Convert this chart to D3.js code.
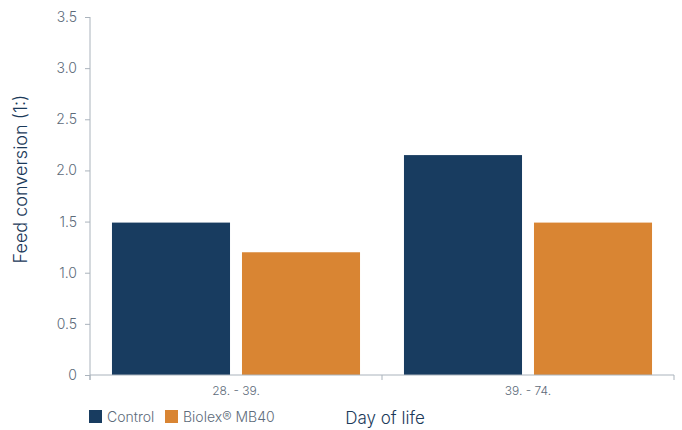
<!DOCTYPE html>
<html><head><meta charset="utf-8">
<script src="https://cdn.jsdelivr.net/npm/d3@7"></script>
<style>body{margin:0;background:#fff}svg{display:block}</style>
</head><body>
<script>
const categories = ["28. - 39.", "39. - 74."];
const seriesNames = ["Control", "Biolex® MB40"];
const controlValues = [1.49, 2.15];
const biolexValues = [1.20, 1.49];
const yTicks = [0, 0.5, 1.0, 1.5, 2.0, 2.5, 3.0, 3.5];
const colors = ["#183c60", "#d98533"];

const W = 682, H = 430;
const m = {left: 90, right: 8, top: 17, bottom: 55};
const svg = d3.select("body").append("svg").attr("width", W).attr("height", H);
const font = "Inter, 'Noto Sans', sans-serif";

const x = d3.scaleBand().domain(categories).range([m.left, W - m.right]).paddingInner(0).paddingOuter(0);
const x1 = d3.scaleBand().domain(seriesNames).range([0, x.bandwidth()]).paddingInner(0.092).paddingOuter(0.169);
const y = d3.scaleLinear().domain([0, 3.5]).range([H - m.bottom, m.top]);

const data = categories.map((c, i) => ({cat: c, vals: [controlValues[i], biolexValues[i]]}));

const g = svg.append("g");
g.selectAll("g.grp").data(data).join("g").attr("class", "grp")
  .attr("transform", d => `translate(${x(d.cat)},0)`)
  .selectAll("rect").data(d => d.vals.map((v, j) => ({v, s: seriesNames[j], j})))
  .join("rect")
  .attr("x", d => x1(d.s)).attr("width", x1.bandwidth())
  .attr("y", d => y(d.v)).attr("height", d => y(0) - y(d.v))
  .attr("fill", d => colors[d.j]);

// y axis
const yAxis = d3.axisLeft(y).tickValues(yTicks).tickSize(5).tickPadding(8)
  .tickFormat(d => d === 0 ? "0" : d3.format(".1f")(d));
const ya = svg.append("g").attr("transform", `translate(${m.left},0)`).call(yAxis);
ya.select(".domain").attr("stroke", "#aab3bc").attr("d", `M0,${m.top}V${y(0)+5}`);
ya.selectAll(".tick line").attr("stroke", "#aab3bc");
ya.selectAll(".tick text").attr("fill", "#5d6b7a").style("font-family", font)
  .style("font-size", "14px").style("font-weight", 300);

// x axis
const xa = svg.append("g").attr("transform", `translate(0,${y(0)})`);
xa.append("line").attr("x1", m.left).attr("x2", W - m.right).attr("stroke", "#aab3bc");
const xTickPos = [m.left, ...categories.slice(1).map(c => x(c)), W - m.right];
xa.selectAll("line.t").data(xTickPos).join("line").attr("class", "t")
  .attr("x1", d => d).attr("x2", d => d).attr("y1", 0).attr("y2", 5).attr("stroke", "#aab3bc");
xa.selectAll("text").data(categories).join("text")
  .attr("x", d => x(d) + x.bandwidth() / 2).attr("y", 20)
  .attr("text-anchor", "middle").attr("fill", "#5d6b7a")
  .style("font-family", font).style("font-size", "12px").style("font-weight", 300).text(d => d);

// axis titles
svg.append("text").attr("transform", `translate(27,179) rotate(-90)`)
  .attr("text-anchor", "middle").attr("fill", "#1b3a5a")
  .style("font-family", font).style("font-size", "18px").style("font-weight", 300).text("Feed conversion (1:)");
svg.append("text").attr("x", 385).attr("y", 424).attr("text-anchor", "middle").attr("fill", "#1b3a5a")
  .style("font-family", font).style("font-size", "17px").style("font-weight", 300).text("Day of life");

// legend
const legX = [89, 165];
const leg = svg.selectAll("g.leg").data(seriesNames).join("g").attr("class", "leg")
  .attr("transform", (d, i) => `translate(${legX[i]},410)`);
leg.append("rect").attr("width", 13).attr("height", 13).attr("fill", (d, i) => colors[i]);
leg.append("text").attr("x", 18).attr("y", 12).attr("fill", "#5d6b7a")
  .style("font-family", font).style("font-size", "14px").style("font-weight", 300).text(d => d);
</script>
</body></html>
